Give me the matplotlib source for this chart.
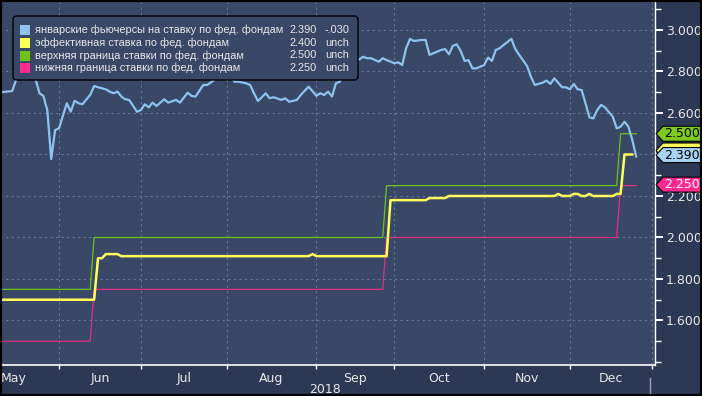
import numpy as np
import pandas as pd
import matplotlib
matplotlib.use("Agg")
import matplotlib.pyplot as plt
from matplotlib.patches import Polygon, FancyBboxPatch, Rectangle
from matplotlib.transforms import IdentityTransform
from matplotlib.lines import Line2D

# ---------------- data (x = trading days since 2018-05-11) ----------------
start_date = "2018-05-11"

fut_day = [0, 3, 4, 5, 6, 7, 8, 9, 10, 11, 12, 13, 14, 15, 17, 18, 19, 20, 21, 23,
           24, 25, 27, 28, 29, 30, 31, 32, 33, 35, 36, 37, 38, 39, 40, 42, 43, 45, 46, 48,
           49, 50, 52, 53, 55, 57, 58, 59, 60, 61, 63, 64, 65, 66, 67, 68, 69, 70, 72, 73,
           74, 76, 77, 79, 81, 82, 83, 84, 85, 86, 87, 88, 89, 91, 93, 94, 95, 97, 98, 99,
           101, 102, 103, 104, 105, 106, 108, 109, 110, 111, 113, 114, 115, 116, 117, 118, 119, 120, 121, 122,
           124, 125, 126, 127, 128, 129, 131, 132, 133, 135, 136, 137, 139, 140, 141, 142, 144, 145, 146, 147,
           148, 149, 150, 151, 152, 153, 154, 155, 157, 158, 159, 160, 161, 162, 163]
fut_val = [2.700, 2.706, 2.759, 2.783, 2.783, 2.769, 2.775, 2.762, 2.695, 2.682, 2.614, 2.378, 2.518, 2.526, 2.647, 2.606, 2.659, 2.647, 2.642, 2.687,
           2.730, 2.724, 2.714, 2.703, 2.695, 2.703, 2.679, 2.666, 2.663, 2.606, 2.614, 2.642, 2.627, 2.650, 2.634, 2.666, 2.650, 2.663, 2.650, 2.698,
           2.682, 2.679, 2.735, 2.735, 2.762, 2.772, 2.762, 2.775, 2.751, 2.751, 2.743, 2.735, 2.695, 2.658, 2.676, 2.695, 2.671, 2.676, 2.663, 2.671,
           2.654, 2.663, 2.687, 2.727, 2.683, 2.695, 2.687, 2.703, 2.679, 2.743, 2.751, 2.791, 2.823, 2.847, 2.871, 2.864, 2.864, 2.847, 2.864, 2.855,
           2.840, 2.844, 2.831, 2.912, 2.957, 2.947, 2.952, 2.952, 2.880, 2.888, 2.904, 2.908, 2.883, 2.924, 2.931, 2.899, 2.851, 2.855, 2.815, 2.815,
           2.831, 2.867, 2.851, 2.904, 2.912, 2.928, 2.957, 2.908, 2.880, 2.827, 2.775, 2.735, 2.746, 2.756, 2.740, 2.767, 2.724, 2.724, 2.714, 2.740,
           2.714, 2.711, 2.647, 2.579, 2.574, 2.614, 2.639, 2.627, 2.582, 2.526, 2.534, 2.558, 2.534, 2.470, 2.390]

eff_day = [0, 24, 25, 26, 27, 30, 31, 79, 80, 81, 99, 100, 109, 110, 114, 115, 142, 143, 144, 146,
           147, 148, 149, 150, 151, 152, 157, 158, 159, 160, 162]
eff_val = [1.70, 1.70, 1.90, 1.90, 1.92, 1.92, 1.91, 1.91, 1.92, 1.91, 1.91, 2.18, 2.18, 2.19, 2.19, 2.20, 2.20, 2.21, 2.20, 2.20,
           2.21, 2.21, 2.20, 2.20, 2.21, 2.20, 2.20, 2.21, 2.21, 2.40, 2.40]

upper_day = [0, 23, 24, 98, 99, 158, 159, 163]
upper_val = [1.75, 1.75, 2.00, 2.00, 2.25, 2.25, 2.50, 2.50]
lower_day = [0, 23, 24, 98, 99, 158, 159, 163]
lower_val = [1.50, 1.50, 1.75, 1.75, 2.00, 2.00, 2.25, 2.25]

legend_labels = ["январские фьючерсы на ставку по фед. фондам",
                 "эффективная ставка по фед. фондам",
                 "верхняя граница ставки по фед. фондам",
                 "нижняя граница ставки по фед. фондам"]
legend_values = ["2.390", "2.400", "2.500", "2.250"]
legend_changes = ["-.030", "unch", "unch", "unch"]
year_label = "2018"

# ---------------- style ----------------
C_FUT = "#8ec3ef"
C_EFF = "#ffff5a"
C_UP = "#6fc21c"
C_LO = "#e2307f"
BG_OUT = "#2b3955"
BG_AX = "#384866"
GRID = "#66779a"
TXT = "#e8e8e8"
NARROW = ["Liberation Sans Narrow", "DejaVu Sans"]
LEGF = ["Liberation Sans", "DejaVu Sans"]

W, H = 702, 396
fig = plt.figure(figsize=(W / 100, H / 100), dpi=100, facecolor=BG_OUT)
ax = fig.add_axes([0 / W, (H - 365) / H, 655 / W, 363 / H], facecolor=BG_AX)

ax.plot(upper_day, upper_val, color=C_UP, lw=0.9, zorder=3)
ax.plot(lower_day, lower_val, color=C_LO, lw=0.9, zorder=3)
ax.plot(eff_day, eff_val, color=C_EFF, lw=1.8, zorder=4)
ax.plot(fut_day, fut_val, color=C_FUT, lw=1.6, zorder=5)

ax.set_xlim(-0.13, 167.82)
ax.set_ylim(1.3855, 3.1349)

# month ticks on trading-day scale
bdays = pd.bdate_range("2018-05-01", "2019-01-31")
pos0 = bdays.get_loc(pd.Timestamp(start_date))
positions = np.arange(len(bdays)) - pos0
ser = pd.Series(positions, index=bdays)
month_first = ser.groupby([ser.index.year, ser.index.month]).first()
mpos = month_first.values
mnames = [pd.Timestamp(year=y, month=m, day=1).strftime("%b") for (y, m) in month_first.index]

ax.set_xticks(mpos[1:])
ax.set_xticklabels([])
ax.tick_params(axis="x", direction="out", length=3, width=1, color="white")
for i in range(len(mpos) - 1):
    mid = (mpos[i] + mpos[i + 1]) / 2
    ax.text(mid, -0.036, mnames[i], transform=ax.get_xaxis_transform(), ha="center", va="center",
            color=TXT, fontsize=9, family=NARROW)
ax.text(0.496, -0.068, year_label, transform=ax.transAxes, ha="center", va="center",
        color=TXT, fontsize=9, family=NARROW)

# y axis on the right (the 2.400 label sits under the value tags)
ax.yaxis.tick_right()
major = np.round(np.arange(1.6, 3.01, 0.2), 1)
minor = np.round(np.arange(1.4, 3.11, 0.1), 1)
ax.set_yticks(major)
ax.set_yticklabels(["" if abs(v - 2.4) < 1e-9 else f"{v:.3f}" for v in major])
ax.set_yticks(minor, minor=True)
ax.tick_params(axis="y", which="major", direction="out", length=6, width=1.4, color="white",
               labelcolor=TXT, labelsize=9, pad=2)
ax.tick_params(axis="y", which="minor", direction="out", length=4, width=1, color="white")

for s in ["left", "top"]:
    ax.spines[s].set_visible(False)
ax.spines["right"].set_color("white")
ax.spines["bottom"].set_color("white")
ax.spines["right"].set_linewidth(1)
ax.spines["bottom"].set_linewidth(1.2)

ax.grid(True, which="major", color=GRID, lw=0.8, ls=(0, (2, 3)))

# ---------------- legend ----------------
def px(x, y):
    return x, H - y

leg = FancyBboxPatch(px(13, 80), 345, 64, boxstyle="round,pad=0,rounding_size=4",
                     fc=BG_AX, ec="black", lw=1.0, transform=IdentityTransform(), zorder=10)
fig.add_artist(leg)
row_y = [30, 43, 55.5, 68]
cols = [C_FUT, C_EFF, C_UP, "#ff2a90"]
for i in range(4):
    xx, yy = px(20, row_y[i] + 5)
    fig.add_artist(Rectangle((xx, yy), 10, 10, fc=cols[i], ec="none",
                             transform=IdentityTransform(), zorder=11))
    fig.text(35 / W, (H - row_y[i]) / H, legend_labels[i], color=TXT, fontsize=7.9, family=LEGF,
             va="center", ha="left", zorder=12)
    fig.text(317 / W, (H - row_y[i]) / H, legend_values[i], color=TXT, fontsize=7.9, family=LEGF,
             va="center", ha="right", zorder=12)
    fig.text(325 / W, (H - row_y[i]) / H, legend_changes[i], color=TXT, fontsize=7.9, family=LEGF,
             va="center", ha="left", zorder=12)

# ---------------- value tags ----------------
def tag(v, text, fc, tc, dy=0):
    y = ax.transData.transform((0, v))[1] + dy
    x0 = ax.transAxes.transform((1, 0))[0]
    h = 7.5
    pts = [(x0 + 1, y), (x0 + 8, y + h), (x0 + 46, y + h), (x0 + 46, y - h), (x0 + 8, y - h)]
    fig.add_artist(Polygon(pts, closed=True, fc=fc, ec="black", lw=0.8,
                           transform=IdentityTransform(), zorder=20))
    if text:
        fig.text((x0 + 27) / W, y / H, text, color=tc, fontsize=9, ha="center", va="center", zorder=21)

tag(upper_val[-1], f"{upper_val[-1]:.3f}", "#7dc91f", "black")
tag(eff_val[-1], "", C_EFF, "black", dy=4)
tag(fut_val[-1], f"{fut_val[-1]:.3f}", "#a9d3f5", "black", dy=1.5)
tag(lower_val[-1], f"{lower_val[-1]:.3f}", "#ff2a90", "white", dy=1)

# year separator and frame
fig.add_artist(Line2D([650, 650], [0, 18], color="#9aa5b8", lw=1, transform=IdentityTransform()))
fig.add_artist(Rectangle((0, 0), W, H, fc="none", ec="black", lw=3, transform=IdentityTransform(), zorder=30))

fig.savefig("out.png", dpi=100, facecolor=BG_OUT)
